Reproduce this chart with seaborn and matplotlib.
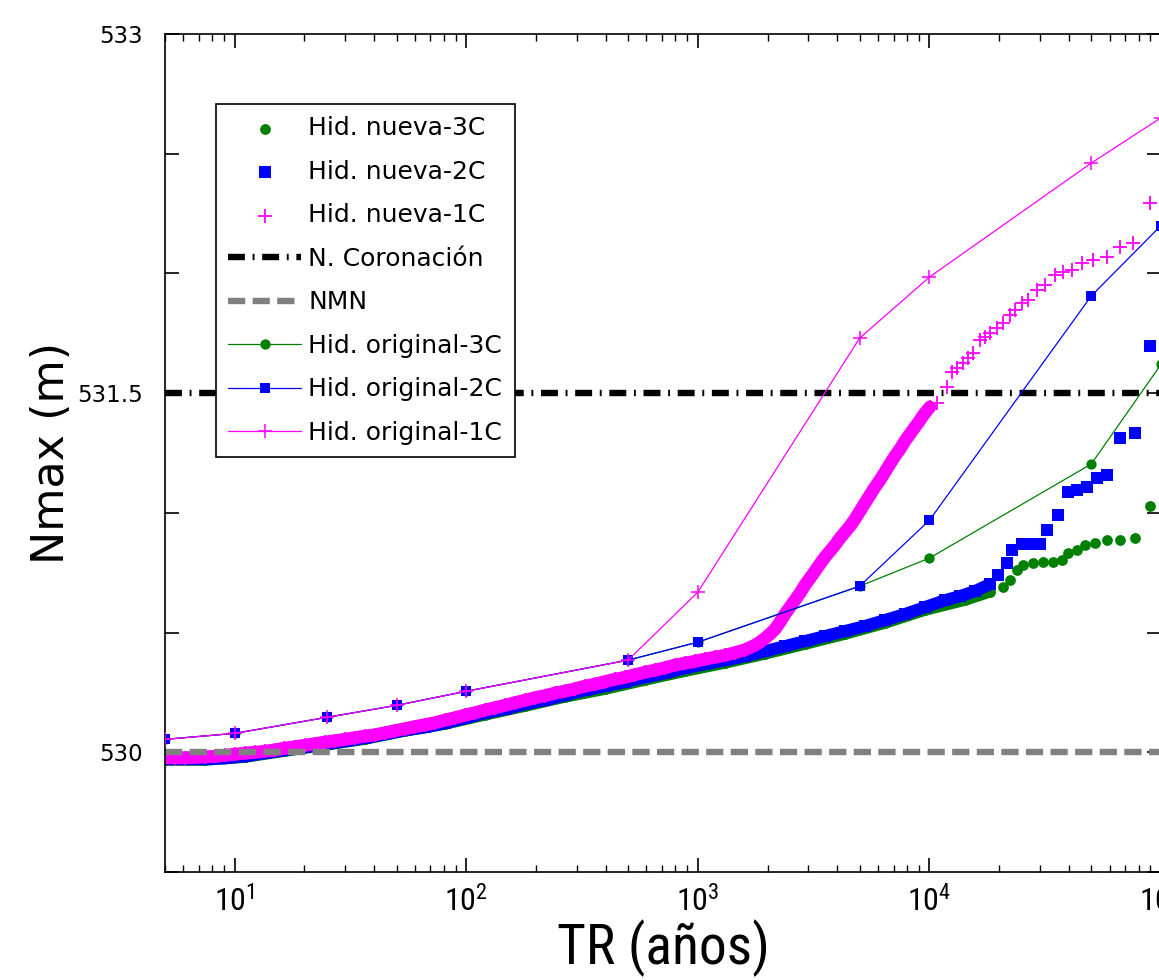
import matplotlib
matplotlib.use("Agg")
import matplotlib.pyplot as plt
import seaborn as sns
from matplotlib import font_manager as fm
from matplotlib.ticker import NullFormatter

# ---- values ----
# original hydrographs (lines with markers)
tr_orig = [5, 10, 25, 50, 100, 500, 1000, 5000, 10000, 50000, 100000]
orig_3c = [530.054, 530.079, 530.146, 530.196, 530.255, 530.385, 530.460, 530.694, 530.811, 531.204, 531.620]
orig_2c = [530.054, 530.079, 530.146, 530.196, 530.255, 530.385, 530.460, 530.694, 530.969, 531.906, 532.200]
orig_1c = [530.054, 530.079, 530.146, 530.196, 530.255, 530.385, 530.669, 531.730, 531.985, 532.461, 532.650]

# new hydrographs, dense part of each cloud
tr_n1_dense = [5.0, 5.51, 6.08, 6.72, 7.42, 8.19, 9.05, 10.0, 11.05, 12.2, 13.5, 14.9, 16.4, 18.2,
               20.1, 22.2, 24.5, 27.0, 29.9, 33.0, 36.4, 40.3, 44.4, 49.1, 54.2, 59.9, 66.2, 73.1,
               80.8, 89.2, 98.5, 109, 120, 133, 147, 162, 179, 198, 218, 241, 266, 294, 325, 359,
               397, 438, 484, 535, 590, 652, 720, 796, 879, 971, 1072, 1184, 1308, 1445, 1596, 1763,
               1853, 1947, 2046, 2151, 2261, 2376, 2497, 2624, 2758, 2899, 3047, 3202, 3365, 3537,
               3717, 3907, 4106, 4315, 4535, 4766, 5010, 5265, 5534, 5816, 6112, 6424, 6751, 7096,
               7457, 7838, 8237, 8657, 9099, 9563, 10050]
n1_dense = [529.977, 529.977, 529.977, 529.979, 529.981, 529.983, 529.987, 529.992, 529.996, 530.000,
            530.004, 530.010, 530.017, 530.023, 530.029, 530.036, 530.042, 530.048, 530.054, 530.061,
            530.067, 530.073, 530.081, 530.090, 530.098, 530.107, 530.115, 530.123, 530.134, 530.144,
            530.155, 530.165, 530.176, 530.186, 530.196, 530.207, 530.217, 530.228, 530.236, 530.247,
            530.255, 530.265, 530.276, 530.284, 530.295, 530.305, 530.313, 530.324, 530.334, 530.343,
            530.353, 530.364, 530.372, 530.380, 530.389, 530.397, 530.405, 530.416, 530.428, 530.447,
            530.460, 530.476, 530.493, 530.514, 530.543, 530.577, 530.606, 530.635, 530.664, 530.698,
            530.727, 530.756, 530.786, 530.815, 530.840, 530.865, 530.894, 530.919, 530.944, 530.974,
            531.007, 531.041, 531.074, 531.107, 531.137, 531.170, 531.204, 531.237, 531.266, 531.300,
            531.329, 531.358, 531.387, 531.417, 531.442]
tr_n1_tail = [10770, 11910, 12510, 13140, 13960, 14660, 15410, 16520, 17370, 18250, 19570, 20770,
              22280, 23400, 25100, 26620, 29110, 31550, 34840, 37740, 41290, 45620, 50850, 58460,
              66530, 75690, 89700]
n1_tail = [531.458, 531.525, 531.588, 531.605, 531.626, 531.646, 531.667, 531.722, 531.734, 531.751,
           531.772, 531.793, 531.826, 531.847, 531.876, 531.889, 531.931, 531.952, 531.993, 532.006,
           532.014, 532.043, 532.056, 532.069, 532.110, 532.127, 532.294]

tr_n2_dense = [5.0, 6.08, 7.42, 9.05, 11.05, 13.5, 16.4, 20.1, 24.5, 29.9, 36.4, 44.4, 54.2, 66.2,
               80.8, 98.5, 120, 147, 179, 218, 266, 325, 397, 484, 590, 720, 879, 1072, 1308, 1596,
               1947, 2376, 2899, 3537, 4315, 5265, 6424, 7838, 9563, 11670, 13540, 15720, 18250]
n2_dense = [529.971, 529.971, 529.971, 529.975, 529.983, 529.996, 530.008, 530.021, 530.033, 530.046,
            530.059, 530.075, 530.092, 530.104, 530.121, 530.142, 530.163, 530.180, 530.201, 530.217,
            530.238, 530.259, 530.276, 530.293, 530.313, 530.330, 530.351, 530.368, 530.384, 530.401,
            530.422, 530.443, 530.464, 530.485, 530.506, 530.527, 530.552, 530.577, 530.606, 530.635,
            530.652, 530.673, 530.702]
tr_n2_tail = [19760, 21620, 22720, 25100, 27720, 30010, 32180, 35910, 39660, 43370, 47900, 52900,
              58450, 66520, 77230, 89660]
n2_tail = [530.740, 530.790, 530.844, 530.869, 530.869, 530.869, 530.928, 530.990, 531.087, 531.095,
           531.107, 531.145, 531.158, 531.312, 531.333, 531.697]

tr_n3_dense = [5.0, 7.42, 11.05, 16.4, 24.5, 36.4, 54.2, 80.8, 120, 179, 266, 397, 590, 879, 1308,
               1947, 2899, 4315, 6424, 9563, 14230, 18250]
n3_dense = [529.967, 529.967, 529.979, 530.004, 530.029, 530.054, 530.088, 530.117, 530.155, 530.192,
            530.230, 530.263, 530.301, 530.338, 530.372, 530.410, 530.451, 530.493, 530.539, 530.593,
            530.635, 530.669]
tr_n3_tail = [20780, 22270, 23880, 25340, 28000, 30930, 34170, 37360, 39660, 43370, 46960, 51870,
              58450, 66520, 77230, 89660]
n3_tail = [530.690, 530.719, 530.761, 530.781, 530.790, 530.794, 530.794, 530.802, 530.832, 530.844,
           530.865, 530.873, 530.886, 530.886, 530.894, 531.028]

nivel_coronacion = 531.5
nivel_nmn = 530.0

x_ticks = [1e1, 1e2, 1e3, 1e4, 1e5]
x_ticklabels = [r"$\mathrm{10^{1}}$", r"$\mathrm{10^{2}}$", r"$\mathrm{10^{3}}$",
                r"$\mathrm{10^{4}}$", r"$\mathrm{10^{5}}$"]
y_ticks = [529.5, 530, 530.5, 531, 531.5, 532, 532.5, 533]
y_ticklabels = ["", "530", "", "", "531.5", "", "", "533"]

# ---- style ----
sns.set_style("ticks")
plt.rcParams["font.family"] = ["DejaVu Sans"]
for key in ["text.color", "axes.labelcolor", "xtick.color", "ytick.color", "axes.edgecolor"]:
    plt.rcParams[key] = "black"

# narrow face for the x axis texts, whichever is installed
ttf = fm.fontManager.ttflist
names = {f.name for f in ttf}
narrow_pattern = "DejaVu Sans"
for cand in ["Liberation Sans Narrow", "Roboto Condensed", "Open Sans Condensed"]:
    if cand in names:
        narrow_pattern = cand
        break
else:
    if any(f.name == "DejaVu Sans" and f.stretch == "condensed" for f in ttf):
        narrow_pattern = "DejaVu Sans:stretch=condensed"
    elif "Roboto" in names:
        narrow_pattern = "Roboto"
plt.rcParams["mathtext.fontset"] = "custom"
plt.rcParams["mathtext.rm"] = narrow_pattern
plt.rcParams["mathtext.it"] = narrow_pattern + ":style=italic"
plt.rcParams["mathtext.bf"] = narrow_pattern + ":weight=bold"
narrow_font = fm.FontProperties(narrow_pattern, size=40)

GREEN = "#008000"
BLUE = "#0000ff"
MAGENTA = "#ff00ff"

fig = plt.figure(figsize=(11.59, 9.8), dpi=100)
ax = fig.add_axes([165 / 1159, 108 / 980, 996 / 1159, 838 / 980])
ax.set_xscale("log")

# new hydrograph clouds: a band under the dense part, then the markers
nuevas = [
    (tr_n3_dense, n3_dense, tr_n3_tail, n3_tail, GREEN, "o", 60, 0, 8, "Hid. nueva-3C"),
    (tr_n2_dense, n2_dense, tr_n2_tail, n2_tail, BLUE, "s", 66, 0, 8.8, "Hid. nueva-2C"),
    (tr_n1_dense, n1_dense, tr_n1_tail, n1_tail, MAGENTA, "+", 95, 1.3, 9.3, "Hid. nueva-1C"),
]
z = 2.0
for tr_d, v_d, tr_t, v_t, col, mk, s, mew, band, lab in nuevas:
    sns.lineplot(x=tr_d, y=v_d, color=col, linewidth=band, sort=False, estimator=None,
                 solid_capstyle="round", zorder=z, ax=ax)
    if mk == "+":
        sns.scatterplot(x=tr_d + tr_t, y=v_d + v_t, marker=mk, s=s, color=col, linewidth=mew,
                        zorder=z + 0.05, label=lab, ax=ax)
    else:
        sns.scatterplot(x=tr_d + tr_t, y=v_d + v_t, marker=mk, s=s, color=col, edgecolor=col,
                        linewidth=0, zorder=z + 0.05, label=lab, ax=ax)
    z += 0.1

ax.axhline(nivel_coronacion, color="black", linewidth=4.6, dashes=(2.65, 1.2, 0.3, 1.2),
           zorder=2.5, label="N. Coronación")
ax.axhline(nivel_nmn, color="#808080", linewidth=4.6, dashes=(2.7, 1.15),
           zorder=2.5, label="NMN")

originales = [
    (orig_3c, GREEN, "o", 7.4, 0, "Hid. original-3C"),
    (orig_2c, BLUE, "s", 7.4, 0, "Hid. original-2C"),
    (orig_1c, MAGENTA, "+", 10.5, 1.1, "Hid. original-1C"),
]
z = 2.6
for vals, col, mk, ms, mew, lab in originales:
    sns.lineplot(x=tr_orig, y=vals, color=col, linewidth=0.9, marker=mk, markersize=ms,
                 markeredgecolor=col, markerfacecolor=col, markeredgewidth=mew,
                 sort=False, estimator=None, zorder=z, label=lab, ax=ax)
    z += 0.1

# ---- axes ----
ax.set_xlim(5, 1e5)
ax.set_ylim(529.5, 533)
ax.set_xticks(x_ticks)
ax.set_xticklabels(x_ticklabels, fontsize=23)
ax.xaxis.set_minor_formatter(NullFormatter())
ax.set_yticks(y_ticks)
ax.set_yticklabels(y_ticklabels, fontsize=16.5)
ax.tick_params(axis="both", which="both", direction="in", top=True, right=True, colors="black")
ax.tick_params(which="major", length=10, width=1.2)
ax.tick_params(which="minor", length=5, width=1.0)
ax.tick_params(axis="y", pad=16)
ax.tick_params(axis="x", pad=10)
for sp in ax.spines.values():
    sp.set_linewidth(1.2)
    sp.set_color("black")

ax.set_xlabel("TR (años)", fontproperties=narrow_font, labelpad=0.5)
ax.set_ylabel("Nmax (m)", fontsize=32, labelpad=3)

handles, labels = ax.get_legend_handles_labels()
orden = ["Hid. nueva-3C", "Hid. nueva-2C", "Hid. nueva-1C", "N. Coronación", "NMN",
         "Hid. original-3C", "Hid. original-2C", "Hid. original-1C"]
lookup = dict(zip(labels, handles))
leg = ax.legend([lookup[k] for k in orden], orden, loc="upper left",
                bbox_to_anchor=(0.0512, 0.9165), borderaxespad=0, fontsize=18,
                handlelength=2.9, handletextpad=0.3, labelspacing=0.78, borderpad=0.5,
                fancybox=False, framealpha=1, edgecolor="black", scatterpoints=1)
leg.get_frame().set_linewidth(1.2)
leg.set_zorder(5)

fig.savefig("out.png", dpi=100)
